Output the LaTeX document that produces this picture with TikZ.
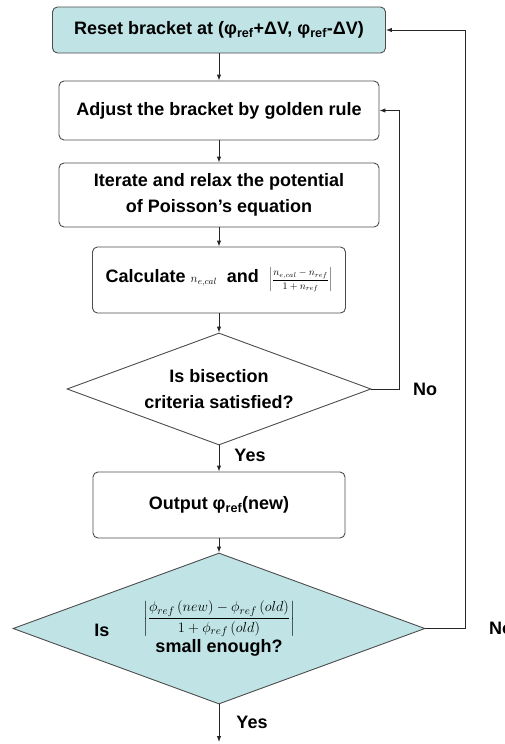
\documentclass[tikz,border=0pt]{standalone}
\usepackage{amsmath}
\usepackage{fontspec}
\setmainfont{Liberation Sans}
\usepackage{tikz}
\usetikzlibrary{shapes.geometric,arrows.meta}
\definecolor{bracketcyan}{RGB}{192,228,230}

\begin{document}
\begin{tikzpicture}[x=1pt,y=1pt]
\tikzstyle{every node}+=[inner sep=0pt, font=\fontsize{18}{26}\selectfont\bfseries]
\tikzstyle{stepbox}=[draw=black!70, line width=0.9pt, rounded corners=5pt, align=center]
\tikzstyle{testbox}=[draw=black!70, line width=0.9pt, diamond, align=center]
\tikzstyle{flow}=[draw=black!85, line width=0.9pt, -{Latex[length=6pt,width=4.5pt]}]
\useasboundingbox (0,0) rectangle (504,-744);
\node [stepbox, fill=bracketcyan, minimum width=333pt, minimum height=46pt] (reset) at (219,-30) {Reset bracket at (φ\textsubscript{ref}+ΔV, φ\textsubscript{ref}-ΔV)};
\node [stepbox, minimum width=320pt, minimum height=59pt] (adjust) at (219,-110.5) {Adjust the bracket by golden rule};
\node [stepbox, minimum width=320pt, minimum height=64pt] (iterate) at (219,-195) {Iterate and relax the potential\\of Poisson's equation};
\node [stepbox, minimum width=253pt, minimum height=66pt] (calc) at (219,-280) {Calculate {\fontsize{13}{15}\selectfont$n_{e,cal}$}\ \ and\ \ {\fontsize{10}{12}\selectfont$\left|\dfrac{n_{e,cal}-n_{ref}}{1+n_{ref}}\right|$}};
\node [testbox, aspect=2.71, minimum width=304pt, minimum height=112pt] (bisect) at (219,-389) {Is bisection\\criteria satisfied?};
\node [stepbox, minimum width=252pt, minimum height=66pt] (output) at (219,-505) {Output φ\textsubscript{ref}(new)};
\node [testbox, aspect=2.73, fill=bracketcyan, minimum width=412pt, minimum height=151pt] (small) at (219,-628.5) {{\fontsize{15}{18}\selectfont$\left|\dfrac{\phi_{ref}\,(new)-\phi_{ref}\,(old)}{1+\phi_{ref}\,(old)}\right|$}\\[1pt]small enough?};
\node (is) at (102,-630) {Is};
% loop corners and exit
\coordinate (bisectno) at (399,-389);
\coordinate (smallno) at (465,-628.5);
\coordinate (exit) at (219,-742);
\node (no1) at (425,-389) {No};
\node [anchor=west] (no2) at (489,-628) {No};
\node (yes1) at (250,-455) {Yes};
\node (yes2) at (252,-722) {Yes};
\draw [flow] (reset) -- (adjust);
\draw [flow] (adjust) -- (iterate);
\draw [flow] (iterate) -- (calc);
\draw [flow] (calc) -- (bisect);
\draw [flow] (bisect) -- (output);
\draw [flow] (output) -- (small);
\draw [flow] (small) -- (exit);
\draw [flow] (bisect.east) -- (bisectno) |- (adjust.east);
\draw [flow] (small.east) -- (smallno) |- (reset.east);
\end{tikzpicture}
\end{document}
